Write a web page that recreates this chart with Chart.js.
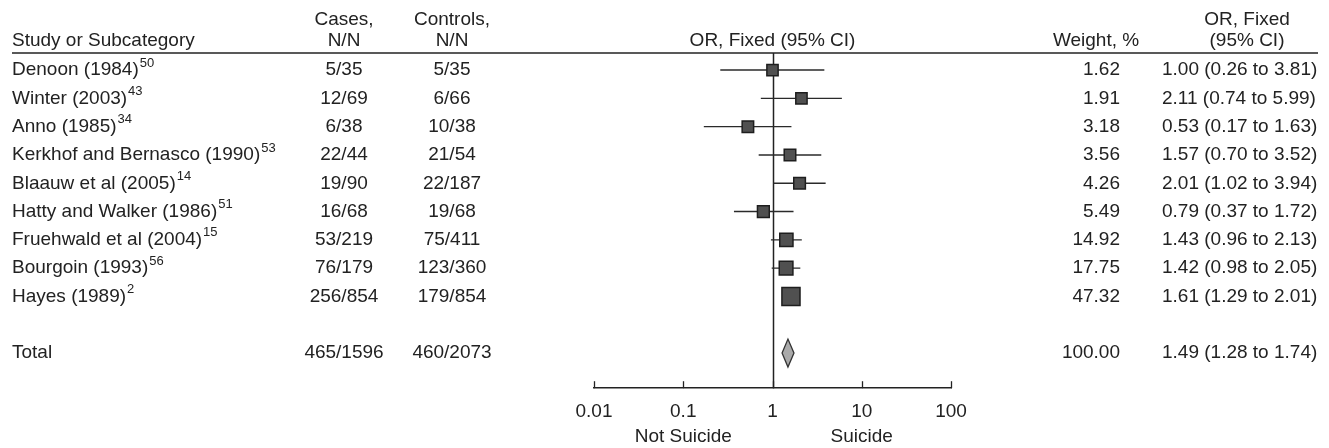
<!DOCTYPE html>
<html>
<head>
<meta charset="utf-8">
<script src="https://cdn.jsdelivr.net/npm/chart.js@4.4.0/dist/chart.umd.min.js"></script>
<style>
  html, body { margin: 0; padding: 0; background: #fff; }
  #wrap { width: 1329px; height: 448px; }
</style>
</head>
<body>
<div id="wrap"><canvas id="forestChart" width="1329" height="448"></canvas></div>
<script>
// study rows, top to bottom
const studies = ['Denoon (1984)', 'Winter (2003)', 'Anno (1985)', 'Kerkhof and Bernasco (1990)', 'Blaauw et al (2005)',
    'Hatty and Walker (1986)', 'Fruehwald et al (2004)', 'Bourgoin (1993)', 'Hayes (1989)'];
const refs = ['50', '43', '34', '53', '14', '51', '15', '56', '2'];
const cases = ['5/35', '12/69', '6/38', '22/44', '19/90', '16/68', '53/219', '76/179', '256/854'];
const controls = ['5/35', '6/66', '10/38', '21/54', '22/187', '19/68', '75/411', '123/360', '179/854'];
const weights = [1.62, 1.91, 3.18, 3.56, 4.26, 5.49, 14.92, 17.75, 47.32];
const oddsRatio = [1.00, 2.11, 0.53, 1.57, 2.01, 0.79, 1.43, 1.42, 1.61];
const ciLow = [0.26, 0.74, 0.17, 0.70, 1.02, 0.37, 0.96, 0.98, 1.29];
const ciHigh = [3.81, 5.99, 1.63, 3.52, 3.94, 1.72, 2.13, 2.05, 2.01];

// pooled result
const totalCases = '465/1596';
const totalControls = '460/2073';
const totalWeight = 100.00;
const totalOR = 1.49;
const totalLow = 1.28;
const totalHigh = 1.74;

const axisTicks = [0.01, 0.1, 1, 10, 100];
const sideLabels = ['Not Suicide', 'Suicide'];

const totalRow = studies.length + 1;
const FONT = '"Liberation Sans", Arial, sans-serif';
const FS = 19;
const INK = '#222';

function fmt(v) { return v.toFixed(2); }

// square size grows with the weight
function squareRadius(w) {
    const side = 11 + 0.15 * w;
    return side / Math.SQRT2;
}

const squares = studies.map((s, i) => ({ x: oddsRatio[i], y: i }));

const ciSets = studies.map((s, i) => ({
    type: 'scatter',
    data: [{ x: ciLow[i], y: i }, { x: ciHigh[i], y: i }],
    showLine: true,
    borderColor: '#2a2a2a',
    borderWidth: 1.4,
    pointRadius: 0,
    order: 2
}));

const forestTable = {
    id: 'forestTable',
    beforeDatasetsDraw(chart) {
        const { ctx, chartArea, scales: { x } } = chart;
        ctx.save();
        ctx.strokeStyle = INK;
        ctx.lineWidth = 1.5;
        // rule under the header
        ctx.beginPath();
        ctx.moveTo(12, chartArea.top);
        ctx.lineTo(1318, chartArea.top);
        ctx.stroke();
        // line of no effect
        const x1 = Math.round(x.getPixelForValue(1)) + 0.5;
        ctx.beginPath();
        ctx.moveTo(x1, chartArea.top);
        ctx.lineTo(x1, chartArea.bottom);
        ctx.stroke();
        // tick marks point up into the plot
        ctx.lineWidth = 1.3;
        axisTicks.forEach(v => {
            const px = Math.round(x.getPixelForValue(v)) + 0.5;
            ctx.beginPath();
            ctx.moveTo(px, chartArea.bottom);
            ctx.lineTo(px, chartArea.bottom - 7);
            ctx.stroke();
        });
        ctx.restore();
    },
    afterDatasetsDraw(chart) {
        const { ctx, scales: { x, y } } = chart;
        // pooled diamond
        const cy = y.getPixelForValue(totalRow);
        const half = 14;
        ctx.save();
        ctx.beginPath();
        ctx.moveTo(x.getPixelForValue(totalLow), cy);
        ctx.lineTo(x.getPixelForValue(totalOR), cy - half);
        ctx.lineTo(x.getPixelForValue(totalHigh), cy);
        ctx.lineTo(x.getPixelForValue(totalOR), cy + half);
        ctx.closePath();
        ctx.fillStyle = '#aaaaaa';
        ctx.fill();
        ctx.strokeStyle = '#333';
        ctx.lineWidth = 1.3;
        ctx.stroke();
        ctx.restore();
    },
    afterDraw(chart) {
        const { ctx, scales: { x, y } } = chart;
        ctx.save();
        ctx.fillStyle = INK;
        ctx.textBaseline = 'middle';
        ctx.font = FS + 'px ' + FONT;

        const put = (txt, px, py, align) => {
            ctx.textAlign = align;
            ctx.fillText(txt, px, py);
        };

        // headers
        put('Study or Subcategory', 12, 41, 'left');
        put('Cases,', 344, 20, 'center');
        put('N/N', 344, 41, 'center');
        put('Controls,', 452, 20, 'center');
        put('N/N', 452, 41, 'center');
        put('OR, Fixed (95% CI)', x.getPixelForValue(1), 41, 'center');
        put('Weight, %', 1096, 41, 'center');
        put('OR, Fixed', 1247, 20, 'center');
        put('(95% CI)', 1247, 41, 'center');

        // study rows
        studies.forEach((s, i) => {
            const py = y.getPixelForValue(i);
            ctx.font = FS + 'px ' + FONT;
            put(s, 12, py, 'left');
            const w = ctx.measureText(s).width;
            put(cases[i], 344, py, 'center');
            put(controls[i], 452, py, 'center');
            put(fmt(weights[i]), 1120, py, 'right');
            put(fmt(oddsRatio[i]) + ' (' + fmt(ciLow[i]) + ' to ' + fmt(ciHigh[i]) + ')', 1162, py, 'left');
            ctx.font = '13px ' + FONT;
            put(refs[i], 12 + w + 1, py - 7, 'left');
        });

        // total row
        ctx.font = FS + 'px ' + FONT;
        const ty = y.getPixelForValue(totalRow);
        put('Total', 12, ty, 'left');
        put(totalCases, 344, ty, 'center');
        put(totalControls, 452, ty, 'center');
        put(fmt(totalWeight), 1120, ty, 'right');
        put(fmt(totalOR) + ' (' + fmt(totalLow) + ' to ' + fmt(totalHigh) + ')', 1162, ty, 'left');

        // direction labels under the axis
        put(sideLabels[0], x.getPixelForValue(0.1), 437, 'center');
        put(sideLabels[1], x.getPixelForValue(10), 437, 'center');
        ctx.restore();
    }
};

const ctx = document.getElementById('forestChart').getContext('2d');
new Chart(ctx, {
    type: 'scatter',
    data: {
        datasets: [
            {
                label: 'OR',
                data: squares,
                pointStyle: 'rect',
                pointRadius: weights.map(squareRadius),
                pointHoverRadius: weights.map(squareRadius),
                backgroundColor: '#505050',
                borderColor: '#1e1e1e',
                borderWidth: 1.5,
                order: 0
            },
            ...ciSets
        ]
    },
    options: {
        responsive: false,
        animation: false,
        events: [],
        layout: { padding: { left: 594, right: 378, top: 53, bottom: 13 } },
        plugins: {
            legend: { display: false },
            tooltip: { enabled: false }
        },
        scales: {
            x: {
                type: 'logarithmic',
                min: 0.01,
                max: 100,
                afterBuildTicks: (scale) => {
                    scale.ticks = axisTicks.map(v => ({ value: v }));
                },
                grid: { display: false, drawTicks: false },
                border: { display: true, color: INK, width: 1.5 },
                ticks: {
                    padding: 12,
                    color: INK,
                    font: { family: FONT, size: FS },
                    maxRotation: 0,
                    autoSkip: false,
                    callback: (v) => String(v)
                }
            },
            y: {
                type: 'linear',
                display: false,
                reverse: true,
                min: -0.603,
                max: 11.241
            }
        }
    },
    plugins: [forestTable]
});
</script>
</body>
</html>
